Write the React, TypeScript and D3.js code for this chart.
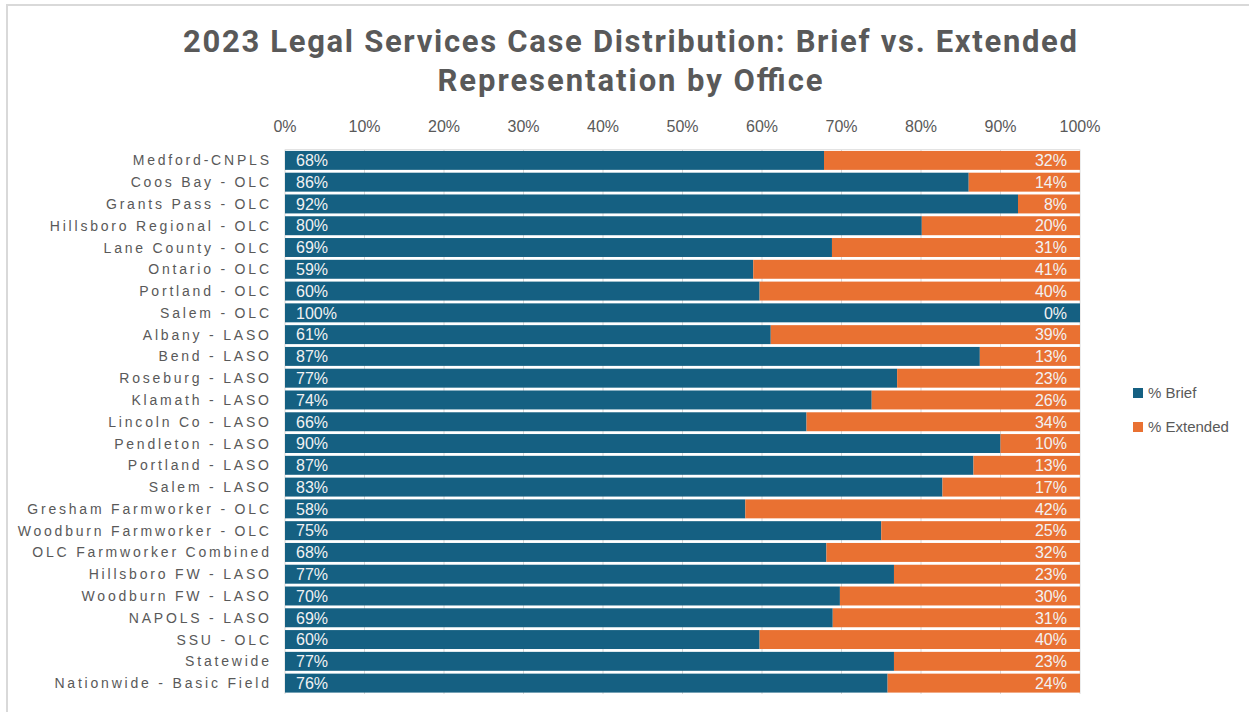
import React, { useEffect } from "react";
import * as d3 from "d3";

const categories = [
  "Medford-CNPLS",
  "Coos Bay - OLC",
  "Grants Pass - OLC",
  "Hillsboro Regional - OLC",
  "Lane County - OLC",
  "Ontario - OLC",
  "Portland - OLC",
  "Salem - OLC",
  "Albany - LASO",
  "Bend - LASO",
  "Roseburg - LASO",
  "Klamath - LASO",
  "Lincoln Co - LASO",
  "Pendleton - LASO",
  "Portland - LASO",
  "Salem - LASO",
  "Gresham Farmworker - OLC",
  "Woodburn Farmworker - OLC",
  "OLC Farmworker Combined",
  "Hillsboro FW - LASO",
  "Woodburn FW - LASO",
  "NAPOLS - LASO",
  "SSU - OLC",
  "Statewide",
  "Nationwide - Basic Field",
];

const briefValues = [
  67.8, 86.0, 92.2, 80.1, 68.8, 58.9, 59.7, 100, 61.1, 87.4, 77.0, 73.8, 65.6,
  90.0, 86.6, 82.7, 57.9, 75.0, 68.1, 76.6, 69.8, 68.9, 59.7, 76.6, 75.8,
];

const extendedValues = [
  32.2, 14.0, 7.8, 19.9, 31.2, 41.1, 40.3, 0, 38.9, 12.6, 23.0, 26.2, 34.4,
  10.0, 13.4, 17.3, 42.1, 25.0, 31.9, 23.4, 30.2, 31.1, 40.3, 23.4, 24.2,
];

const tickValues = [0, 10, 20, 30, 40, 50, 60, 70, 80, 90, 100];

const seriesNames = ["% Brief", "% Extended"];
const seriesColors = ["#156082", "#E97132"];

const titleLines = [
  "2023 Legal Services Case Distribution: Brief vs. Extended",
  "Representation by Office",
];

const W = 1249;
const H = 712;
const textColor = "#595959";

export default function App() {
  useEffect(() => {
    document.body.style.margin = "0";
  }, []);

  const x = d3.scaleLinear().domain([0, 100]).range([285, 1080]);
  const y = d3
    .scaleBand<string>()
    .domain(categories)
    .range([149.5, 694])
    .paddingInner(0.13)
    .paddingOuter(0.065);
  const bh = y.bandwidth();
  const fmt = (v: number) => `${Math.round(v)}%`;

  return (
    <svg width={W} height={H} style={{ display: "block" }}>
      <rect x={0} y={0} width={W} height={H} fill="#fff" />
      <rect
        x={7}
        y={5}
        width={1400}
        height={900}
        fill="none"
        stroke="#d9d9d9"
        strokeWidth={2}
      />
      {/* title */}
      <text
        x={630}
        y={52}
        textAnchor="middle"
        fontFamily="'Roboto', sans-serif"
        fontWeight="bold"
        fontSize={31}
        fill={textColor}
        textLength={894}
        lengthAdjust="spacing"
      >
        {titleLines[0]}
      </text>
      <text
        x={630}
        y={91}
        textAnchor="middle"
        fontFamily="'Roboto', sans-serif"
        fontWeight="bold"
        fontSize={31}
        fill={textColor}
        textLength={385}
        lengthAdjust="spacing"
      >
        {titleLines[1]}
      </text>

      {/* gridlines */}
      <g>
        {tickValues.map((t) => (
          <line
            key={t}
            x1={x(t)}
            x2={x(t)}
            y1={149.5}
            y2={694}
            stroke="#d9d9d9"
            strokeWidth={1}
          />
        ))}
        <line x1={x(0)} x2={x(100)} y1={149.5} y2={149.5} stroke="#e3e3e3" />
      </g>

      {/* tick labels */}
      <g>
        {tickValues.map((t) => (
          <text
            key={t}
            x={x(t)}
            y={132}
            textAnchor="middle"
            fontFamily="'Liberation Sans Narrow', 'Liberation Sans', sans-serif"
            fontSize={16}
            fill={textColor}
          >
            {`${t}%`}
          </text>
        ))}
      </g>

      {/* bars */}
      <g>
        {categories.map((c, i) => {
          const y0 = y(c) as number;
          const b = briefValues[i];
          const e = extendedValues[i];
          return (
            <g key={c}>
              <rect
                x={x(0)}
                y={y0}
                width={x(b) - x(0)}
                height={bh}
                fill={seriesColors[0]}
              />
              <rect
                x={x(b)}
                y={y0}
                width={x(b + e) - x(b)}
                height={bh}
                fill={seriesColors[1]}
              />
              <text
                x={x(0) + 11}
                y={y0 + bh / 2}
                dy="0.36em"
                fontFamily="'Liberation Sans', sans-serif"
                fontSize={16}
                fill="#f2f2f2"
              >
                {fmt(b)}
              </text>
              <text
                x={x(100) - 13}
                y={y0 + bh / 2}
                dy="0.36em"
                textAnchor="end"
                fontFamily="'Liberation Sans', sans-serif"
                fontSize={16}
                fill="#f2f2f2"
              >
                {fmt(e)}
              </text>
              <text
                x={269 + 2.8}
                y={y0 + bh / 2}
                dy="0.36em"
                textAnchor="end"
                fontFamily="'Liberation Sans', sans-serif"
                fontSize={14}
                letterSpacing={2.8}
                fill={textColor}
              >
                {c}
              </text>
            </g>
          );
        })}
      </g>

      {/* legend */}
      <g>
        {seriesNames.map((s, i) => (
          <g key={s} transform={`translate(1133, ${388 + i * 34})`}>
            <rect x={0} y={0} width={10} height={10} fill={seriesColors[i]} />
            <text
              x={15}
              y={5}
              dy="0.36em"
              fontFamily="'Liberation Sans', sans-serif"
              fontSize={15}
              fill={textColor}
            >
              {s}
            </text>
          </g>
        ))}
      </g>
    </svg>
  );
}
